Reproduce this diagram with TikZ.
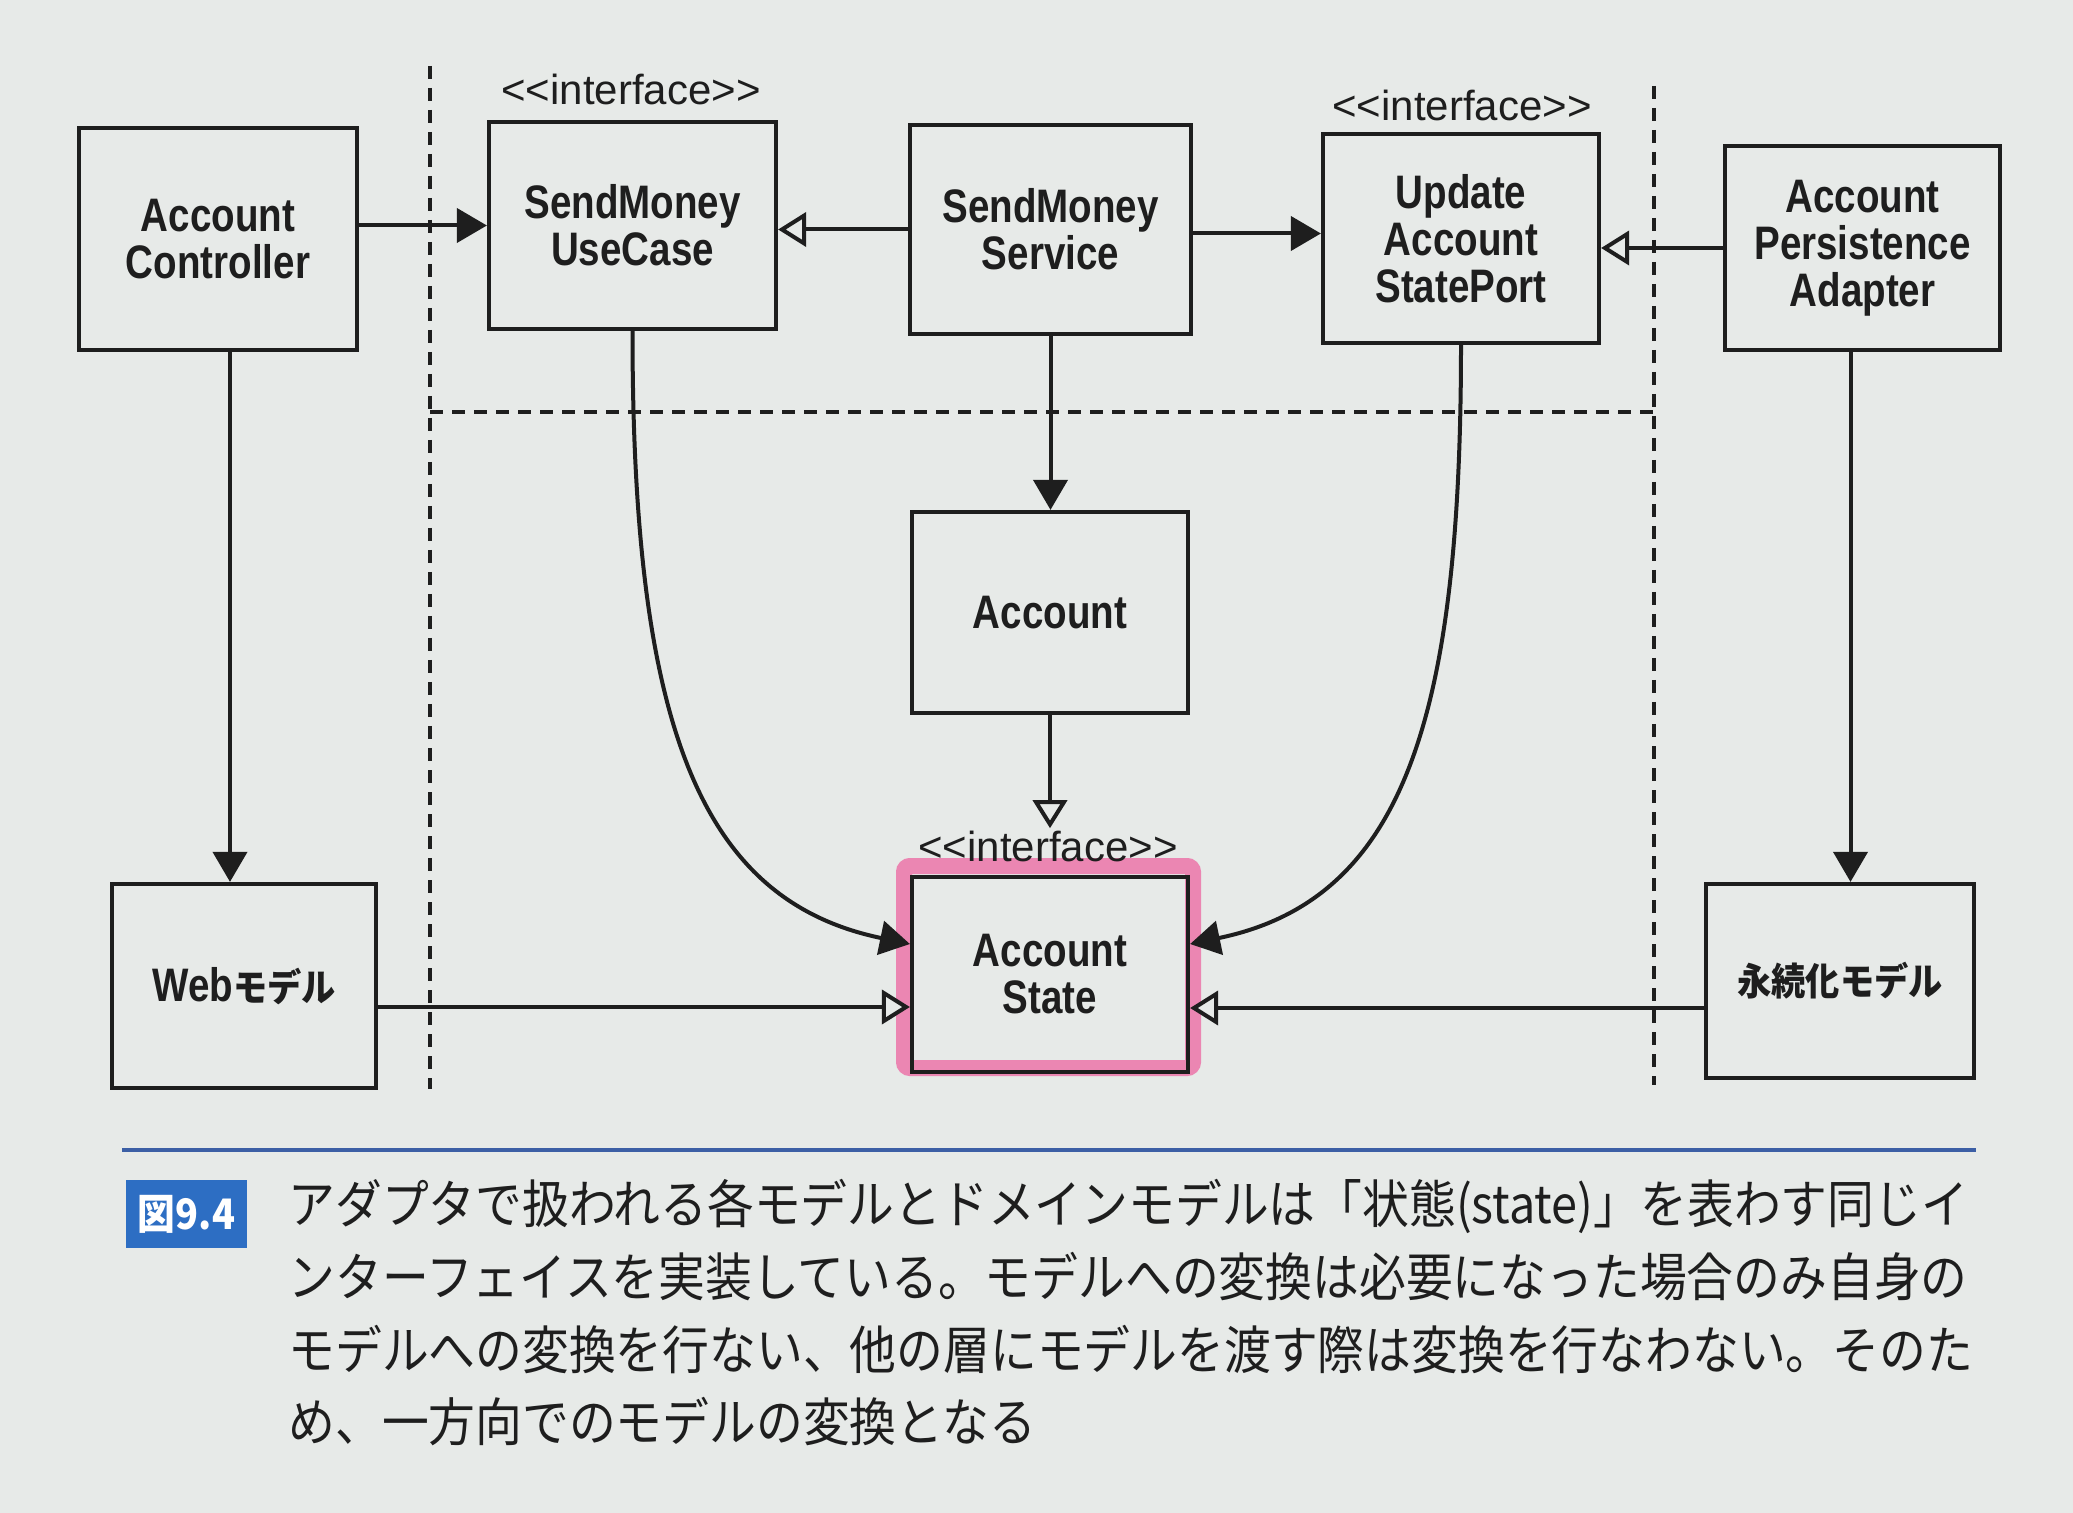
\documentclass[tikz,border=0pt]{standalone}
\usepackage{fontspec}
\setmainfont{Liberation Sans}
\newfontfamily\boxfont{Liberation Sans}[FakeStretch=0.82]
\newfontfamily\jpfont{Noto Sans CJK JP}[FakeStretch=0.9]
\usetikzlibrary{arrows.meta,calc}
\definecolor{ink}{RGB}{30,30,30}
\definecolor{bg}{RGB}{231,234,232}
\definecolor{pinkhl}{RGB}{236,110,165}
\definecolor{capblue}{RGB}{45,110,195}
\definecolor{ruleblue}{RGB}{60,95,165}
\newcommand{\stereo}{{<}\kern0pt{<}interface{>}\kern0pt{>}}
\tikzset{
  box/.style={draw=ink, line width=2.1pt, align=center, inner sep=0pt, text=ink,
    font=\boxfont\bfseries\fontsize{23.5}{23.5}\selectfont},
  jptext/.style={font=\jpfont\bfseries\fontsize{19}{20}\selectfont},
  lbl/.style={font=\fontsize{21}{22}\selectfont, text=ink, inner sep=1pt},
  conn/.style={draw=ink, line width=2pt},
  farr/.style={conn, -{Triangle[length=15pt,width=17pt]}},
  oarr/.style={conn, -{Triangle[open,length=14pt,width=17pt,fill=bg]}},
  sepline/.style={draw=ink, line width=2pt, dash pattern=on 6.5pt off 4.5pt},
  hl/.style={draw=pinkhl, line width=8pt, opacity=0.8, rounded corners=3pt},
  capline/.style={font=\jpfont\fontsize{26}{28}\selectfont, text=ink, inner sep=0pt, anchor=base west},
}
\begin{document}
\begin{tikzpicture}[x=0.5pt,y=-0.5pt]
\fill[bg] (0,0) rectangle (2073,1513);
\useasboundingbox (0,0) rectangle (2073,1513);

% layer boundaries
\draw[sepline] (430,66) -- (430,1089);
\draw[sepline] (1654,86) -- (1654,1085);
\draw[sepline, line width=2.4pt] (430,412) -- (1654,412);

% highlight behind Account State
\draw[hl] (904,866) rectangle (1193,1068);

% boxes
\node[box, minimum width=139pt, minimum height=111pt] (AC) at (218,239) {Account\\Controller};
\node[box, minimum width=143.5pt, minimum height=103.5pt] (UC) at (632.5,225.5) {SendMoney\\UseCase};
\node[box, minimum width=140.5pt, minimum height=104.5pt] (SV) at (1050.5,229.5) {SendMoney\\Service};
\node[box, minimum width=138pt, minimum height=104.5pt] (UP) at (1461,238.5) {Update\\Account\\StatePort};
\node[box, minimum width=137.5pt, minimum height=102pt] (PA) at (1862.5,248) {Account\\Persistence\\Adapter};
\node[box, minimum width=138pt, minimum height=100.5pt] (AM) at (1050,612.5) {Account};
\node[box, minimum width=138pt, minimum height=97.5pt] (AS) at (1050,974.5) {Account\\State};
\node[box, minimum width=132pt, minimum height=102pt] (WM) at (244,986) {Web{\jpfont\bfseries\fontsize{19}{20}\selectfont モデル}};
\node[box, jptext, minimum width=134pt, minimum height=97pt] (PM) at (1840,981) {永続化モデル};

% stereotype labels
\node[lbl] (UClbl) at (631,89) {\stereo};
\node[lbl] (UPlbl) at (1462,105) {\stereo};
\node[lbl] (ASlbl) at (1048,846) {\stereo};

% connectors
\draw[farr] (AC.east |- UC.west) -- (UC.west);
\draw[oarr] (SV.west) -- (SV.west -| UC.east);
\draw[farr] ([yshift=-2pt]SV.east) -- ([yshift=-2pt]SV.east -| UP.west);
\draw[oarr] (PA.west) -- (PA.west -| UP.east);
\draw[farr] ([xshift=6pt]AC.south) -- ([xshift=6pt]AC.south |- WM.north);
\draw[farr] ([xshift=-6pt]PA.south) -- ([xshift=-6pt]PA.south |- PM.north);
\draw[farr] (SV.south) -- (SV.south |- AM.north);
\draw[oarr] (AM.south) -- (AM.south |- ASlbl.north);
\draw[farr] (UC.south) .. controls +(0,391) and +(-212,-44) .. ([yshift=15.25pt]AS.west);
\draw[farr] (UP.south) .. controls +(0,377) and +(212,-44) .. ([yshift=15.25pt]AS.east);
\draw[oarr] ([yshift=-10.5pt]WM.east) -- ([yshift=-10.5pt]WM.east -| AS.west);
\draw[oarr] ([yshift=-13.5pt]PM.east -| PM.west) -- ([yshift=-13.5pt]PM.east -| AS.east);

% caption
\draw[ruleblue, line width=1.6pt] (122,1150) -- (1976,1150);
\node[fill=capblue, text=white, minimum width=60.5pt, minimum height=34pt, inner sep=0pt,
  font=\jpfont\bfseries\fontsize{21}{22}\selectfont] (tag) at (186.5,1214) {図9.4};
\node[capline] (cap1) at (288,1223) {アダプタで扱われる各モデルとドメインモデルは「状態(state)」を表わす同じイ};
\node[capline] (cap2) at (288,1296) {ンターフェイスを実装している。モデルへの変換は必要になった場合のみ自身の};
\node[capline] (cap3) at (288,1369) {モデルへの変換を行ない、他の層にモデルを渡す際は変換を行なわない。そのた};
\node[capline] (cap4) at (288,1441) {め、一方向でのモデルの変換となる};
\end{tikzpicture}
\end{document}
